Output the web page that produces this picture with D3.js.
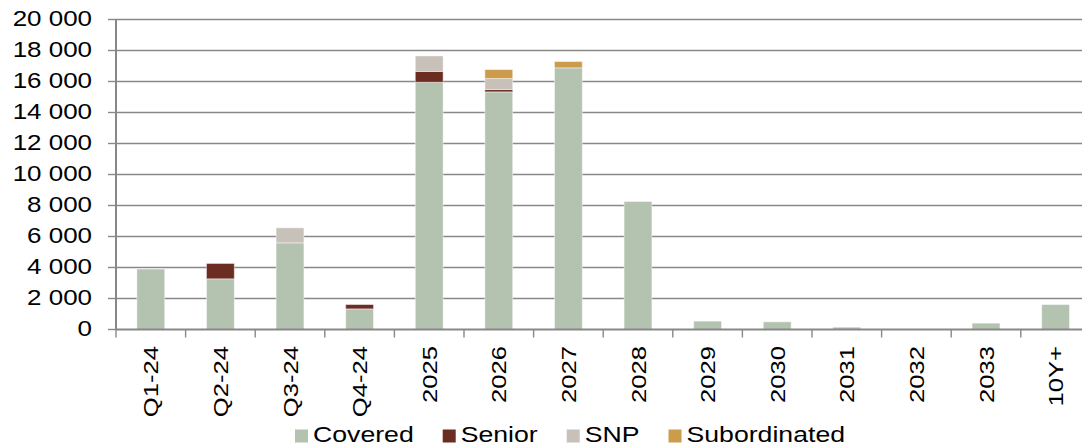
<!DOCTYPE html>
<html>
<head>
<meta charset="utf-8">
<script src="https://cdn.jsdelivr.net/npm/d3@7"></script>
<style>
html,body{margin:0;padding:0;background:#fff;}
svg{display:block;}
text{font-family:"Liberation Sans",Arial,sans-serif;fill:#000;}
</style>
</head>
<body>
<svg id="chart" width="1082" height="448"></svg>
<script>
const categories = ["Q1-24","Q2-24","Q3-24","Q4-24","2025","2026","2027","2028","2029","2030","2031","2032","2033","10Y+"];
const covered      = [3900, 3270, 5590, 1330, 15950, 15330, 16880, 8260, 540, 495, 150, 0, 410, 1610];
const senior       = [0, 990, 0, 280, 700, 150, 0, 0, 0, 0, 0, 0, 0, 0];
const snp          = [0, 0, 970, 0, 1000, 710, 0, 0, 0, 0, 0, 0, 0, 0];
const subordinated = [0, 0, 0, 0, 0, 580, 410, 0, 0, 0, 0, 0, 0, 0];
const seriesNames  = ["Covered","Senior","SNP","Subordinated"];
const seriesColors = ["#B3C3B0","#6B2C22","#C8C1BA","#CC9C4D"];
const yTicks = [0,2000,4000,6000,8000,10000,12000,14000,16000,18000,20000];

const svg = d3.select("#chart");

const x = d3.scaleBand().domain(categories).range([116, 1090.4]).paddingInner(0.6).paddingOuter(0.3);
const y = d3.scaleLinear().domain([0, 20000]).range([329.5, 19.5]);
const step = x.step();

const rows = categories.map((c, i) => ({cat: c, Covered: covered[i], Senior: senior[i], SNP: snp[i], Subordinated: subordinated[i]}));
const stacked = d3.stack().keys(seriesNames)(rows);

const gridColor = "#888888";
svg.append("g").selectAll("line").data(yTicks.filter(t => t > 0)).join("line")
  .attr("x1", 116).attr("x2", 1090).attr("y1", d => y(d)).attr("y2", d => y(d))
  .attr("stroke", gridColor).attr("stroke-width", 1.4);

svg.append("g").selectAll("g").data(stacked).join("g")
  .attr("fill", (d, i) => seriesColors[i])
  .selectAll("rect").data(d => d.filter(s => s[1] - s[0] > 0)).join("rect")
  .attr("x", d => x(d.data.cat))
  .attr("width", x.bandwidth())
  .attr("y", d => y(d[1]))
  .attr("height", d => y(d[0]) - y(d[1]))
  .attr("stroke", "#ffffff").attr("stroke-opacity", 0.45).attr("stroke-width", 1);

svg.append("line").attr("x1", 116).attr("x2", 116).attr("y1", y(20000)).attr("y2", y(0))
  .attr("stroke", gridColor).attr("stroke-width", 2);
svg.append("g").selectAll("line").data(yTicks).join("line")
  .attr("x1", 108).attr("x2", 116).attr("y1", d => y(d)).attr("y2", d => y(d))
  .attr("stroke", gridColor).attr("stroke-width", 1.4);

const fmt = v => d3.format(",")(v).replace(/,/g, " ");
svg.append("g").selectAll("text").data(yTicks).join("text")
  .attr("transform", d => `translate(92,${y(d) + 6.2}) scale(1.18,1)`)
  .attr("text-anchor", "end").attr("font-size", 22)
  .text(d => fmt(d));

svg.append("line").attr("x1", 116).attr("x2", 1090).attr("y1", y(0)).attr("y2", y(0))
  .attr("stroke", gridColor).attr("stroke-width", 2);
const boundaries = categories.map(c => x(c) - step * x.paddingInner() / 2).concat([x(categories[categories.length - 1]) + x.bandwidth() + step * x.paddingInner() / 2]);
svg.append("g").selectAll("line").data(boundaries).join("line")
  .attr("x1", d => d).attr("x2", d => d).attr("y1", y(0)).attr("y2", y(0) + 8)
  .attr("stroke", gridColor).attr("stroke-width", 1.4);

svg.append("g").selectAll("text").data(categories).join("text")
  .attr("transform", d => `translate(${x(d) + x.bandwidth() / 2},346) rotate(-90) scale(1.22,1)`)
  .attr("text-anchor", "end").attr("dy", "0.36em").attr("font-size", 21)
  .text(d => d);

const legend = svg.append("g");
let lx = 295;
seriesNames.forEach((name, i) => {
  legend.append("rect").attr("x", lx).attr("y", 429.5).attr("width", 13).attr("height", 13)
    .attr("fill", seriesColors[i]);
  const t = legend.append("text")
    .attr("transform", `translate(${lx + 18},442) scale(1.24,1)`)
    .attr("font-size", 21.5).text(name);
  const w = t.node().getComputedTextLength() * 1.24;
  lx += 18 + w + 29;
});
</script>
</body>
</html>
